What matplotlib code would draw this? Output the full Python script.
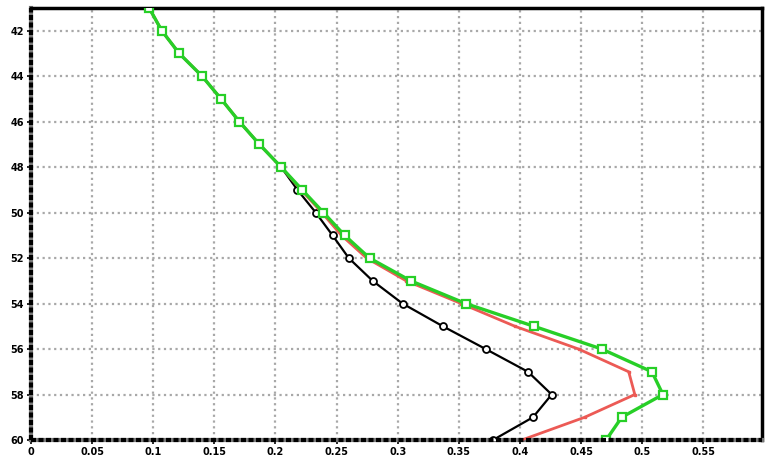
import matplotlib
matplotlib.use("Agg")
import matplotlib.pyplot as plt
from matplotlib.lines import Line2D

depth = list(range(41, 61))

black_x = [0.0967, 0.107, 0.1213, 0.140, 0.1555, 0.1705, 0.1869, 0.2047, 0.218, 0.233,
           0.2467, 0.260, 0.2795, 0.304, 0.337, 0.372, 0.4066, 0.426, 0.4107, 0.378]
red_x = [0.0967, 0.107, 0.1213, 0.140, 0.1555, 0.1705, 0.1869, 0.2047, 0.221, 0.238,
         0.254, 0.2746, 0.307, 0.352, 0.396, 0.448, 0.489, 0.494, 0.453, 0.4016]
green_x = [0.0967, 0.107, 0.1213, 0.140, 0.1555, 0.1705, 0.1869, 0.2047, 0.2219, 0.2393,
           0.2566, 0.277, 0.3107, 0.3557, 0.4115, 0.467, 0.508, 0.517, 0.4833, 0.4705]

xticks = [0, 0.05, 0.1, 0.15, 0.2, 0.25, 0.3, 0.35, 0.4, 0.45, 0.5, 0.55]
xticklabels = ["0", "0.05", "0.1", "0.15", "0.2", "0.25", "0.3", "0.35", "0.4", "0.45", "0.5", "0.55"]
yticks = [42, 44, 46, 48, 50, 52, 54, 56, 58, 60]
yticklabels = ["42", "44", "46", "48", "50", "52", "54", "56", "58", "60"]

fig = plt.figure(figsize=(7.65, 4.59), dpi=100)
ax = fig.add_axes([0.0405, 0.0414, 0.9555, 0.9412])

ax.plot(black_x, depth, color="black", lw=1.6, marker="o", ms=5,
        mfc="white", mec="black", mew=1.3, zorder=3)
ax.plot(red_x, depth, color="#ec5a55", lw=2.0, marker="s", ms=2,
        mfc="#ec5a55", mec="#ec5a55", zorder=4)
ax.plot(green_x, depth, color="#27cf27", lw=2.4, marker="s", ms=5.5,
        mfc="white", mec="#27cf27", mew=1.6, zorder=5)

ax.set_xlim(0, 0.598)
ax.set_ylim(60, 41)
ax.set_xticks(xticks)
ax.set_xticklabels(xticklabels)
ax.set_yticks(yticks)
ax.set_yticklabels(yticklabels)
ax.grid(True, color="#a8a8a8", linestyle=(0, (1, 1.6)), lw=1.6)
ax.set_axisbelow(True)

for lab in ax.get_xticklabels() + ax.get_yticklabels():
    lab.set_fontweight("bold")
    lab.set_fontsize(7)
ax.tick_params(axis="both", direction="out", length=3, width=1.2, pad=2, colors="black")

for side in ["top", "right"]:
    ax.spines[side].set_linewidth(2.5)
    ax.spines[side].set_color("black")
for side in ["left", "bottom"]:
    ax.spines[side].set_linewidth(3)
    ax.spines[side].set_color("#777777")

ax.add_line(Line2D([0, 0], [0, 1], transform=ax.transAxes, color="black",
                   lw=3, linestyle=(0, (1.2, 0.6)), clip_on=False, zorder=6))
ax.add_line(Line2D([0, 1], [0, 0], transform=ax.transAxes, color="black",
                   lw=3, linestyle=(0, (1.2, 0.6)), clip_on=False, zorder=6))

fig.savefig("out.png", dpi=100)
